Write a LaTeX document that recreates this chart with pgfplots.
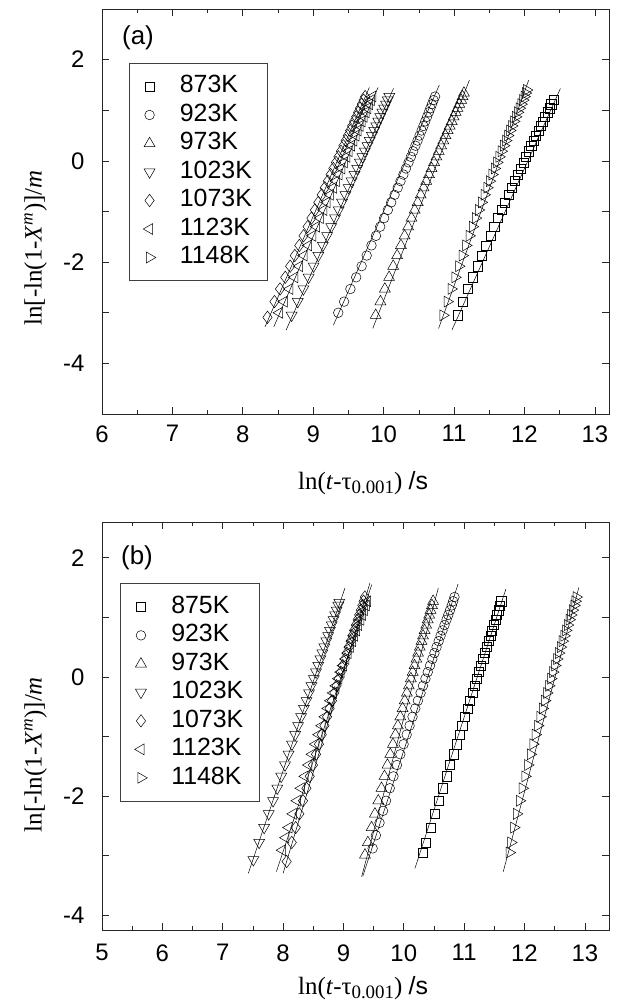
\documentclass[border=0pt]{standalone}
\usepackage{fontspec}
\setmainfont{Liberation Sans}
\newfontfamily\seriffont{Liberation Serif}
\usepackage{pgfplots}
\pgfplotsset{compat=1.18}
\pgfplotsset{
 common/.style={
  scale only axis, width=507bp,
  axis line style={black!85, line width=0.8bp},
  tick style={black!85, line width=0.7bp},
  tick align=inside,
  major tick length=7bp, minor tick length=4bp,
  minor x tick num=1,
  ticklabel style={font=\fontsize{24}{24}\selectfont},
  yticklabel style={xshift=-14bp},
  xticklabel style={yshift=-8bp},
  label style={font=\fontsize{25}{25}\selectfont},
  legend cell align=left,
  legend style={nodes={inner sep=2bp, text height=18.5bp, text depth=6bp},
    draw=black!75, line width=0.8bp, fill=white,
    font=\fontsize{25}{28}\selectfont, inner xsep=14bp, inner ysep=9bp,
    row sep=0bp,
    /tikz/every odd column/.append style={column sep=22bp}},
 },
 mk/.style={only marks, mark options={draw=black, fill=none, line width=0.5bp}},
 sq/.style={mk, mark=square, mark size=4.6bp},
 ci/.style={mk, mark=o, mark size=4.8bp},
 tu/.style={only marks, mark=triangle, mark size=6.3bp, mark options={draw=black, fill=none, line width=0.5bp}},
 td/.style={only marks, mark=triangle, mark size=6.3bp, mark options={draw=black, fill=none, line width=0.5bp, rotate=180}},
 di/.style={mk, mark=diamond, mark size=6.2bp},
 tl/.style={only marks, mark=triangle, mark size=6.3bp, mark options={draw=black, fill=none, line width=0.5bp, rotate=90}},
 tr/.style={only marks, mark=triangle, mark size=6.3bp, mark options={draw=black, fill=none, line width=0.5bp, rotate=-90}},
 fit/.style={black, line width=0.5bp, no marks, forget plot},
}
\begin{document}
\begin{tikzpicture}
\path[use as bounding box] (0,0) rectangle (620bp,-1005bp);
% ---------------- panel (a) ----------------
\begin{axis}[common, at={(102bp,-9bp)}, anchor=north west, height=405bp,
  xmin=6, xmax=13.2, ymin=-5, ymax=3,
  xtick={6,...,13}, xticklabels={6,7,8,9,10,11,12,13},
  ytick={-4,...,2}, yticklabels={-4,,-2,,0,,2},
  xlabel={\seriffont ln(\textit{t}-τ\raisebox{-0.35ex}{\fontsize{19}{19}\selectfont 0.001}) {\normalfont /s}},
  ylabel={\seriffont ln[-ln(1-\textit{X}\textsuperscript{\textit{m}})]/\textit{m}},
  xlabel style={at={(axis description cs:0.515,-0.170)}, anchor=center},
  ylabel style={at={(axis description cs:-0.131,0.41)}, anchor=center},
  legend style={at={(0.053,0.867)}, anchor=north west},
]
\addplot[sq] coordinates {(11.05,-3.05)(11.127,-2.78)(11.199,-2.53)(11.267,-2.30)(11.332,-2.08)(11.396,-1.87)(11.457,-1.67)(11.515,-1.48)(11.571,-1.30)(11.625,-1.13)(11.676,-0.97)(11.724,-0.82)(11.772,-0.67)(11.818,-0.53)(11.861,-0.40)(11.903,-0.27)(11.943,-0.15)(11.984,-0.03)(12.021,0.08)(12.058,0.19)(12.095,0.30)(12.130,0.40)(12.164,0.50)(12.199,0.60)(12.230,0.69)(12.261,0.78)(12.293,0.87)(12.325,0.96)(12.353,1.04)(12.381,1.12)(12.41,1.20)};
\addlegendentry{873K}
\addplot[ci] coordinates {(9.355,-3.00)(9.438,-2.78)(9.528,-2.53)(9.610,-2.30)(9.687,-2.08)(9.759,-1.87)(9.827,-1.67)(9.891,-1.48)(9.951,-1.30)(10.007,-1.13)(10.059,-0.97)(10.107,-0.82)(10.155,-0.67)(10.199,-0.53)(10.239,-0.40)(10.280,-0.27)(10.316,-0.15)(10.353,-0.03)(10.386,0.08)(10.419,0.19)(10.451,0.30)(10.481,0.40)(10.510,0.50)(10.539,0.60)(10.565,0.69)(10.590,0.78)(10.616,0.87)(10.641,0.96)(10.663,1.04)(10.686,1.12)(10.708,1.20)(10.730,1.27)};
\addlegendentry{923K}
\addplot[tu] coordinates {(9.886,-3.05)(9.954,-2.78)(10.017,-2.53)(10.077,-2.30)(10.135,-2.08)(10.191,-1.87)(10.245,-1.67)(10.297,-1.48)(10.347,-1.30)(10.395,-1.13)(10.440,-0.97)(10.483,-0.82)(10.526,-0.67)(10.567,-0.53)(10.605,-0.40)(10.644,-0.27)(10.680,-0.15)(10.716,-0.03)(10.749,0.08)(10.782,0.19)(10.816,0.30)(10.847,0.40)(10.878,0.50)(10.909,0.60)(10.937,0.69)(10.966,0.78)(10.994,0.87)(11.023,0.96)(11.048,1.04)(11.074,1.12)(11.100,1.20)(11.120,1.27)(11.140,1.34)};
\addlegendentry{973K}
\addplot[td] coordinates {(8.693,-3.05)(8.780,-2.78)(8.860,-2.53)(8.934,-2.30)(9.005,-2.08)(9.072,-1.87)(9.136,-1.67)(9.197,-1.48)(9.255,-1.30)(9.310,-1.13)(9.361,-0.97)(9.409,-0.82)(9.457,-0.67)(9.502,-0.53)(9.544,-0.40)(9.586,-0.27)(9.624,-0.15)(9.663,-0.03)(9.698,0.08)(9.733,0.19)(9.769,0.30)(9.801,0.40)(9.833,0.50)(9.865,0.60)(9.894,0.69)(9.923,0.78)(9.952,0.87)(9.981,0.96)(10.006,1.04)(10.032,1.12)(10.058,1.20)(10.080,1.27)};
\addlegendentry{1023K}
\addplot[di] coordinates {(8.350,-3.09)(8.449,-2.78)(8.528,-2.53)(8.602,-2.30)(8.672,-2.08)(8.738,-1.87)(8.802,-1.67)(8.862,-1.48)(8.920,-1.30)(8.974,-1.13)(9.024,-0.97)(9.072,-0.82)(9.120,-0.67)(9.164,-0.53)(9.206,-0.40)(9.247,-0.27)(9.285,-0.15)(9.323,-0.03)(9.358,0.08)(9.393,0.19)(9.428,0.30)(9.460,0.40)(9.492,0.50)(9.524,0.60)(9.552,0.69)(9.581,0.78)(9.610,0.87)(9.638,0.96)(9.664,1.04)(9.689,1.12)(9.715,1.20)(9.737,1.27)};
\addlegendentry{1073K}
\addplot[tl] coordinates {(8.519,-3.00)(8.587,-2.78)(8.665,-2.53)(8.736,-2.30)(8.804,-2.08)(8.869,-1.87)(8.932,-1.67)(8.991,-1.48)(9.046,-1.30)(9.099,-1.13)(9.149,-0.97)(9.195,-0.82)(9.242,-0.67)(9.286,-0.53)(9.326,-0.40)(9.366,-0.27)(9.404,-0.15)(9.441,-0.03)(9.475,0.08)(9.509,0.19)(9.543,0.30)(9.574,0.40)(9.605,0.50)(9.636,0.60)(9.664,0.69)(9.692,0.78)(9.720,0.87)(9.748,0.96)(9.773,1.04)(9.798,1.12)(9.823,1.20)(9.844,1.27)};
\addlegendentry{1123K}
\addplot[tr] coordinates {(10.842,-3.05)(10.902,-2.78)(10.959,-2.53)(11.013,-2.30)(11.066,-2.08)(11.117,-1.87)(11.167,-1.67)(11.215,-1.48)(11.261,-1.30)(11.305,-1.13)(11.347,-0.97)(11.388,-0.82)(11.428,-0.67)(11.467,-0.53)(11.503,-0.40)(11.539,-0.27)(11.573,-0.15)(11.607,-0.03)(11.639,0.08)(11.671,0.19)(11.703,0.30)(11.733,0.40)(11.762,0.50)(11.792,0.60)(11.819,0.69)(11.847,0.78)(11.874,0.87)(11.902,0.96)(11.927,1.04)(11.952,1.12)(11.977,1.20)(11.995,1.27)(12.014,1.34)(12.030,1.40)};
\addlegendentry{1148K}
% fitted lines
\addplot[fit] coordinates {(10.97,-3.34)(12.51,1.43)};
\addplot[fit] coordinates {(9.286,-3.245)(10.79,1.498)};
\addplot[fit] coordinates {(9.845,-3.311)(11.218,1.597)};
\addplot[fit] coordinates {(8.614,-3.344)(10.14,1.432)};
\addplot[fit] coordinates {(8.315,-3.278)(9.797,1.452)};
\addplot[fit] coordinates {(8.44,-3.278)(9.92,1.45)};
\addplot[fit] coordinates {(10.78,-3.31)(12.06,1.597)};
\node[font=\fontsize{26}{26}\selectfont] at (rel axis cs:0.071,0.928) {(a)};
\end{axis}
% ---------------- panel (b) ----------------
\begin{axis}[common, at={(102bp,-522bp)}, anchor=north west, height=408bp,
  xmin=5, xmax=13.4, ymin=-4.25, ymax=2.6,
  xtick={5,...,13}, xticklabels={5,6,7,8,9,10,11,12,13},
  ytick={-4,...,2}, yticklabels={-4,,-2,,0,,2},
  xticklabel style={yshift=-3bp},
  xlabel={\seriffont ln(\textit{t}-τ\raisebox{-0.35ex}{\fontsize{19}{19}\selectfont 0.001}) {\normalfont /s}},
  ylabel={\seriffont ln[-ln(1-\textit{X}\textsuperscript{\textit{m}})]/\textit{m}},
  xlabel style={at={(axis description cs:0.515,-0.142)}, anchor=center},
  ylabel style={at={(axis description cs:-0.131,0.43)}, anchor=center},
  legend style={at={(0.036,0.850)}, anchor=north west},
]
\addplot[sq] coordinates {(10.313,-2.95)(10.365,-2.78)(10.442,-2.53)(10.513,-2.30)(10.581,-2.08)(10.646,-1.87)(10.708,-1.67)(10.766,-1.48)(10.822,-1.30)(10.874,-1.13)(10.924,-0.97)(10.970,-0.82)(11.016,-0.67)(11.059,-0.53)(11.099,-0.40)(11.139,-0.27)(11.176,-0.15)(11.213,-0.03)(11.247,0.08)(11.281,0.19)(11.315,0.30)(11.346,0.40)(11.377,0.50)(11.408,0.60)(11.435,0.69)(11.463,0.78)(11.491,0.87)(11.519,0.96)(11.543,1.04)(11.568,1.12)(11.593,1.20)(11.614,1.27)};
\addlegendentry{875K}
\addplot[ci] coordinates {(9.484,-2.88)(9.538,-2.66)(9.598,-2.45)(9.656,-2.25)(9.706,-2.08)(9.768,-1.87)(9.829,-1.67)(9.887,-1.48)(9.943,-1.30)(9.997,-1.13)(10.048,-0.97)(10.096,-0.82)(10.145,-0.67)(10.191,-0.53)(10.234,-0.40)(10.278,-0.27)(10.318,-0.15)(10.359,-0.03)(10.397,0.08)(10.435,0.19)(10.473,0.30)(10.508,0.40)(10.543,0.50)(10.578,0.60)(10.610,0.69)(10.642,0.78)(10.675,0.87)(10.708,0.96)(10.737,1.04)(10.766,1.12)(10.795,1.20)(10.818,1.27)(10.840,1.34)};
\addlegendentry{923K}
\addplot[tu] coordinates {(9.357,-2.99)(9.405,-2.78)(9.466,-2.53)(9.522,-2.30)(9.577,-2.08)(9.630,-1.87)(9.680,-1.67)(9.729,-1.48)(9.776,-1.30)(9.820,-1.13)(9.862,-0.97)(9.902,-0.82)(9.942,-0.67)(9.980,-0.53)(10.015,-0.40)(10.051,-0.27)(10.084,-0.15)(10.117,-0.03)(10.147,0.08)(10.178,0.19)(10.209,0.30)(10.237,0.40)(10.265,0.50)(10.294,0.60)(10.319,0.69)(10.345,0.78)(10.371,0.87)(10.397,0.96)(10.421,1.04)(10.444,1.12)(10.467,1.20)(10.486,1.27)};
\addlegendentry{973K}
\addplot[td] coordinates {(7.508,-3.07)(7.604,-2.78)(7.686,-2.53)(7.762,-2.30)(7.834,-2.08)(7.904,-1.87)(7.969,-1.67)(8.032,-1.48)(8.091,-1.30)(8.147,-1.13)(8.200,-0.97)(8.249,-0.82)(8.299,-0.67)(8.345,-0.53)(8.388,-0.40)(8.431,-0.27)(8.470,-0.15)(8.510,-0.03)(8.546,0.08)(8.582,0.19)(8.618,0.30)(8.651,0.40)(8.684,0.50)(8.717,0.60)(8.747,0.69)(8.776,0.78)(8.806,0.87)(8.836,0.96)(8.862,1.04)(8.888,1.12)(8.915,1.20)(8.931,1.25)};
\addlegendentry{1023K}
\addplot[di] coordinates {(8.060,-3.10)(8.144,-2.78)(8.209,-2.53)(8.270,-2.30)(8.330,-2.08)(8.387,-1.87)(8.442,-1.67)(8.495,-1.48)(8.546,-1.30)(8.595,-1.13)(8.641,-0.97)(8.685,-0.82)(8.729,-0.67)(8.771,-0.53)(8.810,-0.40)(8.849,-0.27)(8.886,-0.15)(8.922,-0.03)(8.956,0.08)(8.990,0.19)(9.025,0.30)(9.056,0.40)(9.088,0.50)(9.120,0.60)(9.148,0.69)(9.177,0.78)(9.206,0.87)(9.236,0.96)(9.261,1.04)(9.288,1.12)(9.314,1.20)(9.334,1.27)(9.355,1.34)};
\addlegendentry{1073K}
\addplot[tl] coordinates {(7.990,-2.91)(8.046,-2.70)(8.097,-2.53)(8.167,-2.30)(8.235,-2.08)(8.301,-1.87)(8.365,-1.67)(8.426,-1.48)(8.485,-1.30)(8.541,-1.13)(8.595,-0.97)(8.645,-0.82)(8.696,-0.67)(8.745,-0.53)(8.790,-0.40)(8.835,-0.27)(8.878,-0.15)(8.921,-0.03)(8.960,0.08)(9.000,0.19)(9.040,0.30)(9.076,0.40)(9.113,0.50)(9.150,0.60)(9.183,0.69)(9.217,0.78)(9.251,0.87)(9.285,0.96)(9.316,1.04)(9.346,1.12)(9.377,1.20)(9.400,1.27)};
\addlegendentry{1123K}
\addplot[tr] coordinates {(11.749,-2.95)(11.774,-2.78)(11.823,-2.53)(11.870,-2.30)(11.917,-2.08)(11.964,-1.87)(12.009,-1.67)(12.054,-1.48)(12.098,-1.30)(12.140,-1.13)(12.180,-0.97)(12.219,-0.82)(12.259,-0.67)(12.297,-0.53)(12.333,-0.40)(12.369,-0.27)(12.403,-0.15)(12.437,-0.03)(12.470,0.08)(12.502,0.19)(12.535,0.30)(12.565,0.40)(12.596,0.50)(12.627,0.60)(12.655,0.69)(12.684,0.78)(12.713,0.87)(12.742,0.96)(12.768,1.04)(12.794,1.12)(12.821,1.20)(12.839,1.27)(12.857,1.34)};
\addlegendentry{1148K}
% fitted lines
\addplot[fit] coordinates {(10.185,-3.215)(11.692,1.475)};
\addplot[fit] coordinates {(9.32,-3.35)(10.90,1.56)};
\addplot[fit] coordinates {(9.302,-3.355)(10.572,1.492)};
\addplot[fit] coordinates {(7.424,-3.299)(9.025,1.492)};
\addplot[fit] coordinates {(8.00,-3.30)(9.44,1.58)};
\addplot[fit] coordinates {(7.89,-3.27)(9.47,1.55)};
\addplot[fit] coordinates {(11.648,-3.271)(12.90,1.50)};
\node[font=\fontsize{26}{26}\selectfont] at (rel axis cs:0.069,0.912) {(b)};
\end{axis}
\end{tikzpicture}
\end{document}
